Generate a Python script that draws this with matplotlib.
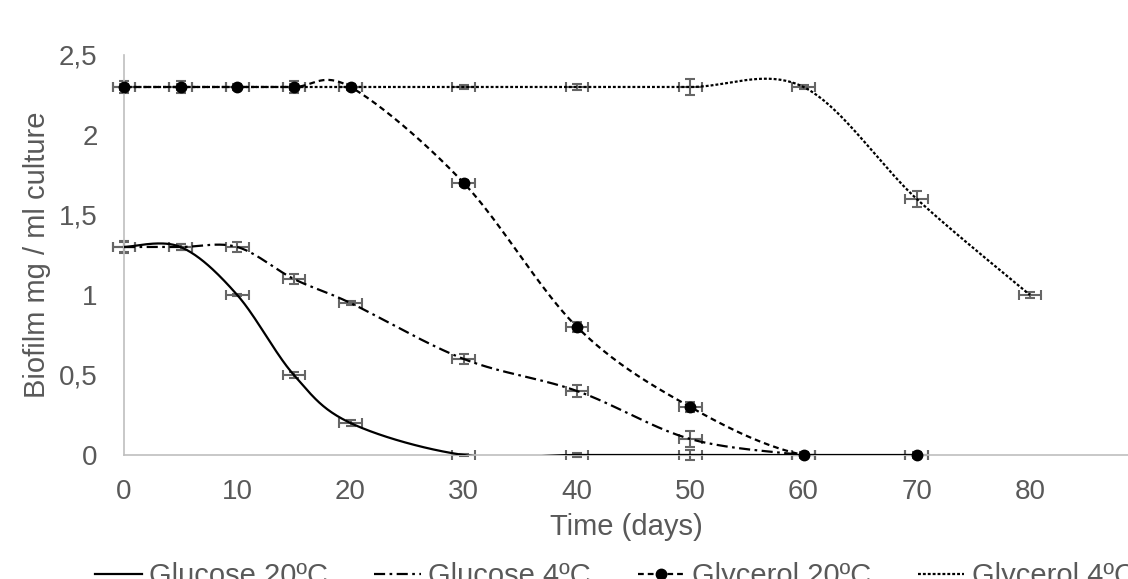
import numpy as np
import matplotlib
matplotlib.use('Agg')
import matplotlib.pyplot as plt
from matplotlib.ticker import FuncFormatter

plt.rcParams['font.family'] = ['Liberation Sans', 'DejaVu Sans']

## data
days = [0, 5, 10, 15, 20, 30, 40, 50, 60, 70]
days_gly4 = [0, 5, 10, 15, 20, 30, 40, 50, 60, 70, 80]

glucose_20 = [1.3, 1.3, 1.0, 0.5, 0.2, 0.0, 0.0, 0.0, 0.0, 0.0]
glucose_20_err = [0.03, 0.02, 0.005, 0.02, 0.02, 0.005, 0.01, 0.03, 0.005, 0.005]

glucose_4 = [1.3, 1.3, 1.3, 1.1, 0.95, 0.6, 0.4, 0.1, 0.0]
glucose_4_err = [0.04, 0.02, 0.03, 0.03, 0.01, 0.03, 0.04, 0.05, 0.01]

glycerol_20 = [2.3, 2.3, 2.3, 2.3, 2.3, 1.7, 0.8, 0.3, 0.0, 0.0]
glycerol_20_err = [0.04, 0.04, 0.01, 0.04, 0.02, 0.02, 0.03, 0.03, 0.02, 0.02]

glycerol_4 = [2.3, 2.3, 2.3, 2.3, 2.3, 2.3, 2.3, 2.3, 2.3, 1.6, 1.0]
glycerol_4_err = [0.02, 0.02, 0.02, 0.02, 0.02, 0.01, 0.02, 0.05, 0.01, 0.05, 0.02]

day_err = 1.0
labels = ['Glucose 20ºC', 'Glucose 4ºC', 'Glycerol 20ºC', 'Glycerol 4ºC']


def smooth(x, y, n=40):
    # excel style smoothed line: catmull-rom bezier pieces
    p = np.column_stack([x, y]).astype(float)
    p = np.vstack([p[0], p, p[-1]])
    out = []
    for i in range(1, len(p) - 2):
        p0, p1, p2, p3 = p[i - 1], p[i], p[i + 1], p[i + 2]
        b1 = p1 + (p2 - p0) / 6.0
        b2 = p2 - (p3 - p1) / 6.0
        t = np.linspace(0, 1, n)[:, None]
        seg = ((1 - t) ** 3) * p1 + 3 * ((1 - t) ** 2) * t * b1 + 3 * (1 - t) * t ** 2 * b2 + t ** 3 * p2
        out.append(seg)
    out = np.vstack(out)
    return out[:, 0], out[:, 1]


fig = plt.figure(figsize=(11.28, 5.79), dpi=100)
ax = fig.add_axes([124 / 1128, 124 / 579, 1 - 124 / 1128, 400 / 579])

grey = '#595959'
ecol = '#666666'
lw = 1.6

series = [
    (days, glucose_20, glucose_20_err, '-', None),
    (days[:len(glucose_4)], glucose_4, glucose_4_err, (0, (5, 2, 1.2, 2)), None),
    (days, glycerol_20, glycerol_20_err, (0, (2.6, 1.8)), 'o'),
    (days_gly4, glycerol_4, glycerol_4_err, (0, (1.3, 0.9)), None),
]

handles = []
for (x, y, e, ls, mk), lab in zip(series, labels):
    eb = ax.errorbar(x, y, yerr=e, xerr=day_err, fmt='none', ecolor=ecol,
                     elinewidth=1.5, capsize=3.5, capthick=1.5, zorder=2)
    for art in eb.lines[1] + eb.lines[2]:
        art.set_clip_on(False)
    sx, sy = smooth(x, y)
    ax.plot(sx, sy, color='black', linestyle=ls, linewidth=lw, zorder=3)
    if mk:
        ax.plot(x, y, 'o', color='black', markersize=7.5, zorder=4, clip_on=False)
    h, = ax.plot([], [], color='black', linestyle=ls, linewidth=lw,
                 marker=mk, markersize=7.5, label=lab)
    handles.append(h)

ax.set_xlim(0, 88.65)
ax.set_ylim(0, 2.5)
ax.set_xticks(np.arange(0, 81, 10))
ax.set_yticks(np.arange(0, 2.51, 0.5))
ax.yaxis.set_major_formatter(FuncFormatter(lambda v, p: ('%g' % v).replace('.', ',')))

for s in ['top', 'right']:
    ax.spines[s].set_visible(False)
for s in ['left', 'bottom']:
    ax.spines[s].set_color('#bfbfbf')
    ax.spines[s].set_linewidth(1.2)
ax.tick_params(length=0, labelsize=20, colors=grey)
ax.tick_params(axis='x', pad=17)
ax.tick_params(axis='y', pad=19)

ax.set_xlabel('Time (days)', fontsize=21, color=grey, labelpad=6)
ax.set_ylabel('Biofilm mg / ml culture', fontsize=21, color=grey, labelpad=6)

fig.legend(handles=handles, loc='center', bbox_to_anchor=(0.545, 0.005), ncol=4,
           frameon=False, fontsize=21, labelcolor=grey, handlelength=1.6,
           handletextpad=0.25, columnspacing=1.6, borderaxespad=0)

fig.savefig('out.png', dpi=100)
